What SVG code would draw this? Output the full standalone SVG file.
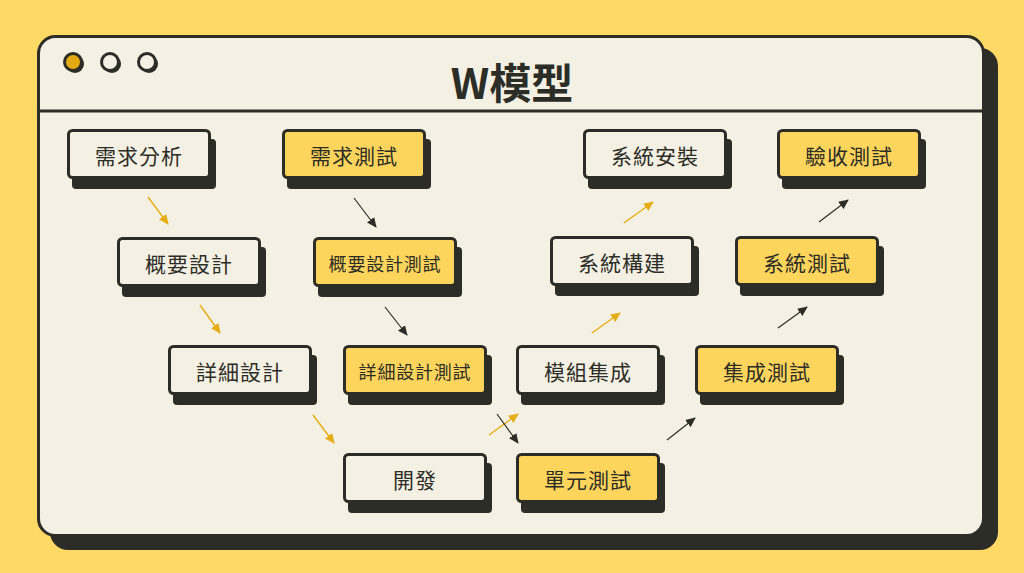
<svg xmlns="http://www.w3.org/2000/svg" width="1024" height="573" viewBox="0 0 1024 573">
<defs>
<style>
.bg{fill:#fed966}
.win{fill:#f4f0e3;stroke:#2d2d27;stroke-width:3}
.dark{fill:#2d2d27}
.sh{fill:#2d2d27}
.bc{fill:#f4f0e3;stroke:#2d2d27;stroke-width:3}
.by{fill:#fdd55c;stroke:#2d2d27;stroke-width:3}
.t{font-family:"Noto Sans CJK TC","Noto Sans CJK SC",sans-serif;font-size:21px;fill:#2d2d27;text-anchor:middle;dominant-baseline:central;letter-spacing:1px}
.ts{font-size:18px;letter-spacing:0.8px}
.title{font-family:"Noto Sans CJK TC","Noto Sans CJK SC",sans-serif;font-size:42px;font-weight:bold;fill:#2d2d27;text-anchor:middle;dominant-baseline:central}
.ag{stroke:#e5ad14;stroke-width:1.4;fill:none}
.ad{stroke:#2d2d27;stroke-width:1.2;fill:none}
</style>
<marker id="mg" viewBox="0 0 10 10" refX="9" refY="5" markerWidth="10" markerHeight="10" markerUnits="userSpaceOnUse" orient="auto">
<path d="M0,0.5 L10,5 L0,9.5 Z" fill="#e5ad14"/>
</marker>
<marker id="md" viewBox="0 0 10 10" refX="9" refY="5" markerWidth="10" markerHeight="10" markerUnits="userSpaceOnUse" orient="auto">
<path d="M0,0.5 L10,5 L0,9.5 Z" fill="#2d2d27"/>
</marker>
</defs>
<rect class="bg" x="0" y="0" width="1024" height="573"/>
<g id="window">
<rect class="dark" x="50" y="48" width="948" height="502" rx="18"/>
<rect class="win" x="38.5" y="36.5" width="945" height="499" rx="17"/>
<line x1="38" y1="111" x2="984" y2="111" stroke="#2d2d27" stroke-width="3"/>
<circle cx="75" cy="64" r="9" class="dark"/>
<circle cx="73" cy="62" r="8.5" fill="#e2a912" stroke="#2d2d27" stroke-width="3"/>
<circle cx="112" cy="64" r="9" class="dark"/>
<circle cx="110" cy="62" r="8.5" fill="#f4f0e3" stroke="#2d2d27" stroke-width="3"/>
<circle cx="149" cy="64" r="9" class="dark"/>
<circle cx="147" cy="62" r="8.5" fill="#f4f0e3" stroke="#2d2d27" stroke-width="3"/>
<text class="title" x="512" y="80">W模型</text>
</g>
<g id="connectors">
<line class="ag" x1="148" y1="197" x2="168" y2="224" marker-end="url(#mg)"/>
<line class="ag" x1="200" y1="305" x2="220" y2="333" marker-end="url(#mg)"/>
<line class="ag" x1="313" y1="415" x2="334" y2="443" marker-end="url(#mg)"/>
<line class="ag" x1="489" y1="435" x2="518" y2="414" marker-end="url(#mg)"/>
<line class="ag" x1="592" y1="333" x2="620" y2="313" marker-end="url(#mg)"/>
<line class="ag" x1="624" y1="223" x2="653" y2="202" marker-end="url(#mg)"/>
<line class="ad" x1="354" y1="198" x2="376" y2="227" marker-end="url(#md)"/>
<line class="ad" x1="385" y1="307" x2="407" y2="335" marker-end="url(#md)"/>
<line class="ad" x1="497" y1="414" x2="518" y2="443" marker-end="url(#md)"/>
<line class="ad" x1="667" y1="440" x2="695" y2="418" marker-end="url(#md)"/>
<line class="ad" x1="778" y1="328" x2="807" y2="307" marker-end="url(#md)"/>
<line class="ad" x1="819" y1="222" x2="848" y2="200" marker-end="url(#md)"/>
</g>
<g id="n1" transform="translate(67,129)"><rect class="sh" x="5" y="10" width="144" height="50" rx="4"/><rect class="bc" x="1.5" y="1.5" width="141" height="47" rx="4"/><text class="t" x="72" y="26">需求分析</text></g>
<g id="n2" transform="translate(282,129)"><rect class="sh" x="5" y="10" width="144" height="50" rx="4"/><rect class="by" x="1.5" y="1.5" width="141" height="47" rx="4"/><text class="t" x="72" y="26">需求測試</text></g>
<g id="n3" transform="translate(583,129)"><rect class="sh" x="5" y="10" width="144" height="50" rx="4"/><rect class="bc" x="1.5" y="1.5" width="141" height="47" rx="4"/><text class="t" x="72" y="26">系統安裝</text></g>
<g id="n4" transform="translate(777,129)"><rect class="sh" x="5" y="10" width="144" height="50" rx="4"/><rect class="by" x="1.5" y="1.5" width="141" height="47" rx="4"/><text class="t" x="72" y="26">驗收測試</text></g>
<g id="n5" transform="translate(117,237)"><rect class="sh" x="5" y="10" width="144" height="50" rx="4"/><rect class="bc" x="1.5" y="1.5" width="141" height="47" rx="4"/><text class="t" x="72" y="26">概要設計</text></g>
<g id="n6" transform="translate(313,237)"><rect class="sh" x="5" y="10" width="144" height="50" rx="4"/><rect class="by" x="1.5" y="1.5" width="141" height="47" rx="4"/><text class="t ts" x="72" y="26">概要設計測試</text></g>
<g id="n7" transform="translate(550,236)"><rect class="sh" x="5" y="10" width="144" height="50" rx="4"/><rect class="bc" x="1.5" y="1.5" width="141" height="47" rx="4"/><text class="t" x="72" y="26">系統構建</text></g>
<g id="n8" transform="translate(735,236)"><rect class="sh" x="5" y="10" width="144" height="50" rx="4"/><rect class="by" x="1.5" y="1.5" width="141" height="47" rx="4"/><text class="t" x="72" y="26">系統測試</text></g>
<g id="n9" transform="translate(168,345)"><rect class="sh" x="5" y="10" width="144" height="50" rx="4"/><rect class="bc" x="1.5" y="1.5" width="141" height="47" rx="4"/><text class="t" x="72" y="26">詳細設計</text></g>
<g id="n10" transform="translate(343,345)"><rect class="sh" x="5" y="10" width="144" height="50" rx="4"/><rect class="by" x="1.5" y="1.5" width="141" height="47" rx="4"/><text class="t ts" x="72" y="26">詳細設計測試</text></g>
<g id="n11" transform="translate(516,345)"><rect class="sh" x="5" y="10" width="144" height="50" rx="4"/><rect class="bc" x="1.5" y="1.5" width="141" height="47" rx="4"/><text class="t" x="72" y="26">模組集成</text></g>
<g id="n12" transform="translate(695,345)"><rect class="sh" x="5" y="10" width="144" height="50" rx="4"/><rect class="by" x="1.5" y="1.5" width="141" height="47" rx="4"/><text class="t" x="72" y="26">集成測試</text></g>
<g id="n13" transform="translate(343,453)"><rect class="sh" x="5" y="10" width="144" height="50" rx="4"/><rect class="bc" x="1.5" y="1.5" width="141" height="47" rx="4"/><text class="t" x="72" y="26">開發</text></g>
<g id="n14" transform="translate(516,453)"><rect class="sh" x="5" y="10" width="144" height="50" rx="4"/><rect class="by" x="1.5" y="1.5" width="141" height="47" rx="4"/><text class="t" x="72" y="26">單元測試</text></g>
</svg>
